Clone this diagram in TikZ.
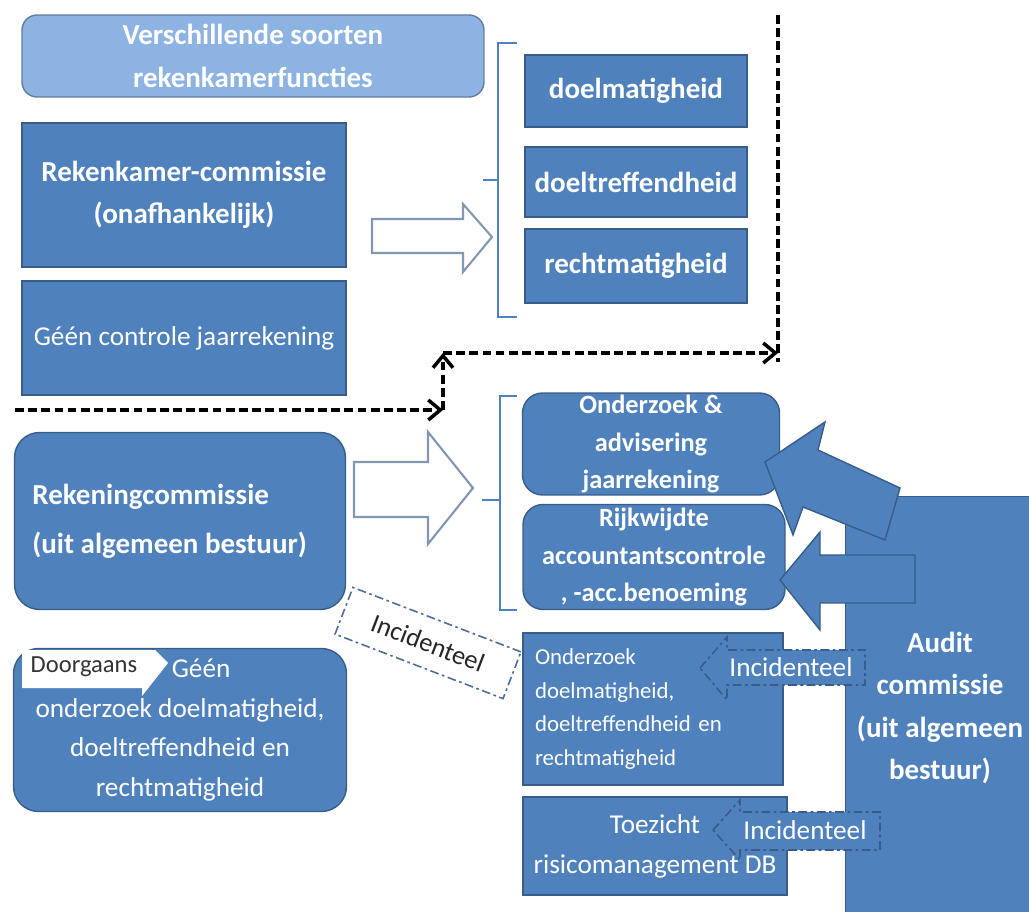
\documentclass[tikz,border=0pt]{standalone}
\usepackage{fontspec}
\setmainfont{Carlito}
\usetikzlibrary{arrows.meta}

\definecolor{boxblue}{HTML}{4F81BD}
\definecolor{edgeblue}{HTML}{385D8A}
\definecolor{headblue}{HTML}{8DB3E2}
\definecolor{arrowgrey}{HTML}{8497B0}

\begin{document}
\begin{tikzpicture}[x=0.02cm, y=-0.02cm,
  box/.style={draw=edgeblue, line width=0.8pt, fill=boxblue, text=white, align=center, inner sep=0pt},
  bigbold/.style={font=\fontsize{16.5}{24}\selectfont\bfseries},
  midbold/.style={font=\fontsize{15}{21.5}\selectfont\bfseries},
  plain/.style={font=\fontsize{15.5}{22.5}\selectfont},
  small/.style={font=\fontsize{13}{19}\selectfont},
  hollow/.style={draw=arrowgrey, line width=1.2pt, fill=white},
  blockarrow/.style={draw=edgeblue, line width=0.8pt, fill=boxblue},
  brace/.style={draw=boxblue, line width=1.7pt},
  flow/.style={draw=black, line width=2pt, dash pattern=on 5pt off 2.5pt,
    -{Straight Barb[length=2.4mm, width=4mm]}},
  callout/.style={draw=edgeblue, line width=0.9pt, fill=boxblue,
    dash pattern=on 5pt off 2pt on 1.5pt off 2pt},
]
\clip (0,0) rectangle (1029,912);

% bovenste deel: rekenkamer
\node[box, rounded corners=0.3cm, fill=headblue, draw=edgeblue!80, minimum width=9.24cm,
  minimum height=1.64cm, bigbold] (kop) at (253,56) {Verschillende soorten\\rekenkamerfuncties};
\node[box, minimum width=6.48cm, minimum height=2.88cm, bigbold] (rkc) at (184,195)
  {Rekenkamer-commissie\\(onafhankelijk)};
\node[box, minimum width=6.48cm, minimum height=2.28cm, plain] (geen) at (184,338)
  {Géén controle jaarrekening};

\node[box, minimum width=4.44cm, minimum height=1.44cm, bigbold] (doel) at (636,91) {doelmatigheid};
\node[box, minimum width=4.44cm, minimum height=1.40cm, bigbold] (treff) at (636,182) {doeltreffendheid};
\node[box, minimum width=4.44cm, minimum height=1.48cm, bigbold] (recht) at (636,266) {rechtmatigheid};

\draw[hollow] (372,219) -- (463,219) -- (463,204) -- (492,237) -- (463,272) -- (463,253)
  -- (372,253) -- cycle;
\draw[brace] (517,43) -- (498,43) -- (498,317) -- (517,317);
\draw[brace] (483,180) -- (498,180);

% scheidingslijnen
\coordinate (p1) at (15,410);
\coordinate (p2) at (443,410);
\coordinate (p3) at (443,353);
\coordinate (p4) at (778,353);
\coordinate (p5) at (778,15);
\coordinate (p6) at (778,362);
\draw[flow] (p1) -- (p2);
\draw[flow] (p2) -- (p3);
\draw[flow] (p3) -- (p4);
\draw[flow, -] (p5) -- (p6);

% onderste deel: rekeningcommissie en auditcommissie
\node[box, rounded corners=0.5cm, minimum width=6.62cm, minimum height=3.54cm] (rek) at (180,521) {};
\node[anchor=west, align=left, text=white, bigbold, inner sep=0pt] (rektekst) at (32,521)
  {Rekeningcommissie\\[4pt](uit algemeen bestuur)};
\node[box, rounded corners=0.5cm, minimum width=6.66cm, minimum height=3.26cm, plain] (gon) at (180,730)
  {\hspace*{24pt}Géén\\onderzoek doelmatigheid,\\doeltreffendheid en\\rechtmatigheid};

\node[box, rounded corners=0.4cm, minimum width=5.14cm, minimum height=2.04cm, midbold] (ond) at (651,444)
  {Onderzoek \&\\advisering\\jaarrekening};
\node[box, rounded corners=0.4cm, minimum width=5.24cm, minimum height=2.10cm, midbold] (rijk) at (654,557)
  {Rijkwijdte\\accountantscontrole\\, -acc.benoeming};
\node[box, minimum width=5.2cm, minimum height=3.04cm, text width=4.72cm, align=left, small] (onddoel) at (653,709)
  {Onderzoek\\doelmatigheid,\\doeltreffendheid en\\rechtmatigheid};
\node[box, minimum width=5.28cm, minimum height=1.96cm, font=\fontsize{15.5}{22.7}\selectfont] (toez) at (655,846)
  {Toezicht\\risicomanagement DB};

\draw[hollow] (354,462) -- (428,462) -- (428,432) -- (473,488) -- (428,544) -- (428,517)
  -- (354,517) -- cycle;
\draw[brace] (517,396) -- (500,396) -- (500,610) -- (517,610);
\draw[brace] (482,500) -- (500,500);

\node[box, minimum width=3.78cm, minimum height=8.46cm, bigbold] (audit) at (940,708)
  {Audit\\commissie\\(uit algemeen\\bestuur)};

\draw[blockarrow] (765,462) -- (825,422) -- (818,450) -- (900,488) -- (885,540) -- (803,507)
  -- (793,535) -- cycle;
\draw[blockarrow] (780,580) -- (820,532) -- (820,555) -- (915,555) -- (915,603) -- (820,603)
  -- (820,630) -- cycle;

% incidenteel / doorgaans
\node[draw=edgeblue!90, line width=0.9pt, dash pattern=on 5pt off 2pt on 1.5pt off 2pt,
  rotate=-21, minimum width=3.6cm, minimum height=1cm, text=black!85,
  font=\fontsize{15}{18}\selectfont] (incl) at (428,643) {Incidenteel};

\draw[callout] (700,668) -- (727,637) -- (727,650) -- (865,650) -- (865,685) -- (727,685)
  -- (727,700) -- cycle;
\node[text=white, font=\fontsize{15.5}{18}\selectfont] (inc1) at (791,667) {Incidenteel};
\draw[callout] (713,830) -- (740,800) -- (740,812) -- (880,812) -- (880,850) -- (740,850)
  -- (740,860) -- cycle;
\node[text=white, font=\fontsize{15.5}{18}\selectfont] (inc2) at (805,830) {Incidenteel};

\fill[white] (22,650) -- (155,650) -- (168,663) -- (142,696) -- (142,688) -- (22,688) -- cycle;
\node[text=black!80, font=\fontsize{14}{16}\selectfont] (door) at (84,667) {Doorgaans};
\end{tikzpicture}
\end{document}
